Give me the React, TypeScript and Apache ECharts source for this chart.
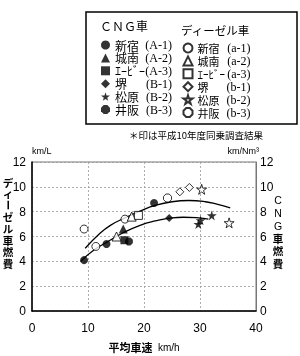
import React, { useEffect, useRef } from "react";
import * as echarts from "echarts";

// ---- data ----
const xTicks = [0, 10, 20, 30, 40];
const cngCodes = ["A-1", "A-2", "A-3", "B-1", "B-2", "B-3"];
const dieselCodes = ["a-1", "a-2", "a-3", "b-1", "b-2", "b-3"];
const siteNames = ["新宿", "城南", "ｴｰﾋﾞｰ", "堺", "松原", "井阪"];

const cngShinjuku = [[9.3, 4.1], [13.3, 5.4], [21.8, 8.7]];
const cngJonan = [[16.3, 6.6]];
const cngAB = [[16.5, 5.7]];
const cngSakai = [[24.5, 7.5]];
const cngMatsubara = [[29.7, 7.0], [30.1, 7.3], [32.1, 7.7]];
const cngIsaka = [[17.3, 5.6]];

const dslShinjuku = [[9.3, 6.6], [11.4, 5.2], [16.6, 7.4]];
const dslJonan = [[17.8, 7.6], [15.1, 6.0]];
const dslAB = [[19.0, 7.7]];
const dslSakai = [[26.4, 9.6], [28.1, 9.95]];
const dslMatsubara = [[30.3, 9.8], [35.2, 7.1]];
const dslIsaka = [[24.2, 9.1]];

const dieselCurve = [[9.5, 5.05], [12, 6.2], [14, 6.9], [16.6, 7.5], [19.3, 8.05], [22, 8.5], [25, 8.8], [28, 8.9], [31, 8.8], [33, 8.6], [35.4, 8.3]];
const cngCurve = [[8.7, 4.0], [11, 4.9], [13.6, 5.6], [16.3, 6.3], [19.3, 6.9], [22, 7.25], [25, 7.5], [27, 7.55], [29.7, 7.5], [31.5, 7.4]];

const notePoints = [[8.9, 3.7], [11.0, 4.8], [15.4, 5.4], [17.2, 5.2], [21.1, 8.3], [29.1, 6.6]];

const STAR = "path://M50,0 L61,35 L98,35 L68,57 L79,91 L50,70 L21,91 L32,57 L2,35 L39,35 Z";
const OCT = "path://M30,0 L70,0 L100,30 L100,70 L70,100 L30,100 L0,70 L0,30 Z";
const symbols = ["circle", "triangle", "rect", "diamond", STAR, OCT];
const cngData = [cngShinjuku, cngJonan, cngAB, cngSakai, cngMatsubara, cngIsaka];
const dslData = [dslShinjuku, dslJonan, dslAB, dslSakai, dslMatsubara, dslIsaka];

const CJK = "'Noto Sans CJK JP', sans-serif";
const SANS = "'Liberation Sans', Arial, sans-serif";
const SERIF = "'Liberation Serif', 'Times New Roman', serif";

export default function App() {
  const ref = useRef<HTMLDivElement>(null);
  useEffect(() => {
    if (!ref.current) return;
    const chart = echarts.init(ref.current, null, { renderer: "svg" });
    const scatter = (code: string, data: number[][], i: number, filled: boolean) => ({
      type: "scatter",
      name: code,
      data,
      symbol: symbols[i],
      symbolSize: i === 4 ? 10 : i === 1 ? 9 : 8,
      itemStyle: filled
        ? { color: "#000" }
        : { color: "#fff", borderColor: "#000", borderWidth: 1 },
      z: 3,
    });
    const codeToName: Record<string, string> = {};
    cngCodes.forEach((c, i) => (codeToName[c] = siteNames[i]));
    dieselCodes.forEach((c, i) => (codeToName[c] = siteNames[i]));

    chart.setOption({
      animation: false,
      grid: { left: 32, right: 44, top: 162, bottom: 45, show: true, borderColor: "#777", borderWidth: 1 },
      xAxis: {
        type: "value",
        min: 0,
        max: 40,
        interval: 10,
        axisLine: { show: true, lineStyle: { color: "#000", width: 1.5 } },
        axisTick: { show: false },
        splitLine: { show: true, lineStyle: { color: "#999", type: [2, 2], width: 0.8 } },
        axisLabel: { color: "#000", fontSize: 12, fontFamily: SANS, margin: 11, formatter: (v: number) => (xTicks.includes(v) ? String(v) : "") },
      },
      yAxis: [
        {
          type: "value",
          min: 0,
          max: 12,
          interval: 2,
          axisLine: { show: true, lineStyle: { color: "#000", width: 1.5 } },
          axisTick: { show: false },
          splitLine: { show: true, lineStyle: { color: "#999", type: [2, 2], width: 0.8 } },
          axisLabel: { color: "#000", fontSize: 12, fontFamily: SANS, margin: 6 },
        },
        {
          type: "value",
          position: "right",
          min: 0,
          max: 12,
          interval: 2,
          axisLine: { show: true, lineStyle: { color: "#777", width: 1 } },
          axisTick: { show: false },
          splitLine: { show: false },
          axisLabel: { color: "#000", fontSize: 12, fontFamily: SANS, margin: 4 },
        },
      ],
      legend: [
        {
          left: 96,
          top: 34,
          orient: "vertical",
          itemWidth: 9,
          itemHeight: 9,
          itemGap: 0.9,
          data: cngCodes,
          formatter: (c: string) => `{n|${codeToName[c]}}{c|(${c})}`,
          textStyle: {
            color: "#000",
            rich: {
              n: { fontFamily: CJK, fontSize: 12, width: 32, lineHeight: 12.5, color: "#000" },
              c: { fontFamily: SERIF, fontSize: 12, width: 25, align: "right", lineHeight: 12.5, color: "#000" },
            },
          },
        },
        {
          left: 177.5,
          top: 37,
          orient: "vertical",
          itemWidth: 9,
          itemHeight: 9,
          itemGap: 0.9,
          data: dieselCodes,
          formatter: (c: string) => `{n|${codeToName[c]}}{c|(${c})}`,
          textStyle: {
            color: "#000",
            rich: {
              n: { fontFamily: CJK, fontSize: 11, width: 22, lineHeight: 12.5, color: "#000" },
              c: { fontFamily: SERIF, fontSize: 12, width: 31, align: "right", lineHeight: 12.5, color: "#000" },
            },
          },
        },
      ],
      graphic: [
        { type: "rect", shape: { x: 86, y: 12, width: 211, height: 112 }, style: { fill: "none", stroke: "#000", lineWidth: 1.5 } },
        { type: "text", x: 100, y: 25, style: { text: "ＣＮＧ車", fontFamily: CJK, fontSize: 12, fill: "#000", verticalAlign: "middle" } },
        { type: "text", x: 181, y: 30, style: { text: "ディーゼル車", fontFamily: CJK, fontSize: 11.5, fill: "#000", verticalAlign: "middle" } },
        { type: "text", x: 263, y: 135, style: { text: "＊印は平成10年度同乗調査結果", fontFamily: CJK, fontSize: 9.5, fill: "#000", align: "right", verticalAlign: "middle" } },
        { type: "text", x: 32, y: 151, style: { text: "km/L", fontFamily: SANS, fontSize: 9, fill: "#000", verticalAlign: "middle" } },
        { type: "text", x: 259, y: 151, style: { text: "km/Nm³", fontFamily: SANS, fontSize: 9, fill: "#000", align: "right", verticalAlign: "middle" } },
        {
          type: "text",
          x: 144,
          y: 347,
          style: {
            text: "{a|平均車速}{b|  km/h}",
            align: "center",
            verticalAlign: "middle",
            rich: {
              a: { fontFamily: CJK, fontSize: 11, fontWeight: "bold", fill: "#000" },
              b: { fontFamily: SANS, fontSize: 10, fill: "#000" },
            },
          },
        },
        // left vertical title: ディーゼル車燃費
        { type: "text", x: 8, y: 177, style: { text: "デ\nィ", fontFamily: CJK, fontSize: 10.5, lineHeight: 11, fontWeight: "bold", fill: "#000", align: "center", verticalAlign: "top" } },
        { type: "text", x: 8, y: 205, rotation: -Math.PI / 2, style: { text: "ー", fontFamily: CJK, fontSize: 10.5, lineHeight: 10.5, fontWeight: "bold", fill: "#000", align: "center", verticalAlign: "middle" } },
        { type: "text", x: 8, y: 211, style: { text: "ゼ\nル\n車\n燃\n費", fontFamily: CJK, fontSize: 10.5, lineHeight: 11.6, fontWeight: "bold", fill: "#000", align: "center", verticalAlign: "top" } },
        // right vertical title: CNG車燃費
        { type: "text", x: 278, y: 194, style: { text: "{l|C}\n{l|N}\n{l|G}\n{k|車}\n{k|燃}\n{k|費}", align: "center", verticalAlign: "top", rich: { l: { fontFamily: SANS, fontSize: 10.5, lineHeight: 12.6, fill: "#000", align: "center" }, k: { fontFamily: CJK, fontSize: 10.5, fontWeight: "bold", lineHeight: 12.6, fill: "#000", align: "center" } } } },
      ],
      series: [
        {
          type: "line",
          name: "dieselCurve",
          data: dieselCurve,
          smooth: true,
          symbol: "none",
          lineStyle: { color: "#000", width: 1.3 },
          z: 2,
        },
        {
          type: "line",
          name: "cngCurve",
          data: cngCurve,
          smooth: true,
          symbol: "none",
          lineStyle: { color: "#000", width: 1.3 },
          z: 2,
        },
        ...cngCodes.map((c, i) => scatter(c, cngData[i], i, true)),
        ...dieselCodes.map((c, i) => scatter(c, dslData[i], i, false)),
        {
          type: "scatter",
          name: "note",
          data: notePoints,
          symbol: "none",
          label: { show: true, formatter: "*", fontSize: 8, color: "#000", position: "inside" },
          z: 4,
        },
      ],
    });
    return () => chart.dispose();
  }, []);
  return <div ref={ref} style={{ position: "fixed", left: 0, top: 0, width: 300, height: 356 }} />;
}
